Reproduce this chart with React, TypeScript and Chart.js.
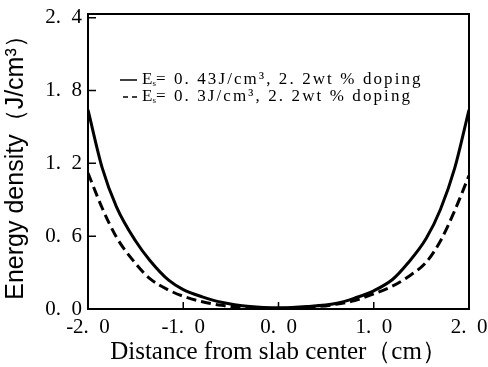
import React, { useEffect, useRef } from "react";
import { Chart, registerables } from "chart.js";
Chart.register(...registerables);

const xValues = [-2, -1.85, -1.7, -1.5, -1.35, -1.15, -1.0, -0.8, -0.6, -0.3, 0, 0.3, 0.6, 0.8, 1.0, 1.2, 1.35, 1.55, 1.7, 1.85, 2.0];
const solidSeries = [1.64, 1.16, 0.84, 0.56, 0.4, 0.235, 0.16, 0.1, 0.055, 0.02, 0.01, 0.02, 0.045, 0.09, 0.15, 0.245, 0.37, 0.58, 0.82, 1.16, 1.64];
const dashedSeries = [1.12, 0.83, 0.59, 0.375, 0.25, 0.155, 0.105, 0.06, 0.03, 0.01, 0.005, 0.012, 0.038, 0.07, 0.125, 0.19, 0.26, 0.385, 0.56, 0.81, 1.1];
const xTickValues = [-2, -1, 0, 1, 2];
const xTickLabels = ["-2.\u20020", "-1.\u20020", "0.\u20020", "1.\u20020", "2.\u20020"];
const yTickValues = [0, 0.6, 1.2, 1.8, 2.4];
const yTickLabels = ["0.\u20020", "0.\u20026", "1.\u20022", "1.\u20028", "2.\u20024"];
const seriesNames = ["Eₛ=0. 43J/cm³, 2. 2wt% doping", "Eₛ=0. 3J/cm³, 2. 2wt% doping"];
const legendPieces = [
  "= 0. 43J/cm³, 2. 2wt % doping",
  "= 0. 3J/cm³, 2. 2wt % doping",
];

const SERIF = "'Liberation Serif', 'Times New Roman', serif";

const framePlugin = {
  id: "frameAndTicks",
  afterDatasetsDraw(chart: any) {
    const { ctx, chartArea, scales } = chart;
    ctx.save();
    ctx.strokeStyle = "#000";
    ctx.lineWidth = 2;
    ctx.strokeRect(chartArea.left, chartArea.top, chartArea.right - chartArea.left, chartArea.bottom - chartArea.top);
    ctx.lineWidth = 1.5;
    ctx.beginPath();
    xTickValues.forEach((v) => {
      const px = scales.x.getPixelForValue(v);
      ctx.moveTo(px, chartArea.bottom);
      ctx.lineTo(px, chartArea.bottom - 7);
    });
    yTickValues.forEach((v) => {
      const py = scales.y.getPixelForValue(v);
      ctx.moveTo(chartArea.left, py);
      ctx.lineTo(chartArea.left + 8, py);
    });
    ctx.stroke();

    // legend
    const rows = [
      { y: 80, dash: [] as number[], x0: 120 },
      { y: 97, dash: [5, 4], x0: 123 },
    ];
    rows.forEach((r, i) => {
      ctx.setLineDash(r.dash);
      ctx.lineWidth = 1.5;
      ctx.beginPath();
      ctx.moveTo(r.x0, r.y);
      ctx.lineTo(137, r.y);
      ctx.stroke();
      ctx.setLineDash([]);
      ctx.fillStyle = "#000";
      ctx.textBaseline = "middle";
      (ctx as any).letterSpacing = "0px";
      ctx.font = `17px ${SERIF}`;
      let x = 142;
      ctx.fillText("E", x, r.y);
      x += ctx.measureText("E").width;
      ctx.font = `9px ${SERIF}`;
      ctx.fillText("s", x, r.y + 4);
      x += ctx.measureText("s").width;
      ctx.font = `17px ${SERIF}`;
      (ctx as any).letterSpacing = "2.1px";
      ctx.fillText(legendPieces[i], x, r.y);
      (ctx as any).letterSpacing = "0px";
    });
    ctx.restore();
  },
};

export default function App() {
  const ref = useRef<HTMLCanvasElement>(null);
  useEffect(() => {
    document.body.style.margin = "0";
    const chart = new Chart(ref.current!, {
      type: "line",
      data: {
        datasets: [
          {
            label: seriesNames[0],
            data: xValues.map((x, i) => ({ x, y: solidSeries[i] })),
            borderColor: "#000",
            borderWidth: 3,
            pointRadius: 0,
            cubicInterpolationMode: "monotone",
            fill: false,
          },
          {
            label: seriesNames[1],
            data: xValues.map((x, i) => ({ x, y: dashedSeries[i] })),
            borderColor: "#000",
            borderWidth: 3,
            borderDash: [10, 5],
            pointRadius: 0,
            cubicInterpolationMode: "monotone",
            fill: false,
          },
        ],
      },
      options: {
        animation: false,
        responsive: false,
        devicePixelRatio: 1,
        layout: { padding: { top: 14, right: 19, left: 0, bottom: 0 } },
        plugins: { legend: { display: false }, tooltip: { enabled: false } },
        scales: {
          x: {
            type: "linear",
            min: -2,
            max: 2,
            afterBuildTicks: (s: any) => {
              s.ticks = xTickValues.map((v) => ({ value: v }));
            },
            afterFit: (s: any) => {
              s.height = 58;
              s.paddingLeft = 0;
              s.paddingRight = 0;
            },
            ticks: {
              callback: (v: any) => xTickLabels[xTickValues.indexOf(Number(v))] ?? "",
              font: { family: SERIF, size: 21 },
              color: "#000",
              padding: 6,
              maxRotation: 0,
              autoSkip: false,
            },
            grid: { display: false, drawTicks: false },
            border: { display: false },
            title: {
              display: true,
              text: "Distance from slab center（cm）",
              font: { family: SERIF, size: 25 },
              color: "#000",
              padding: { top: 0, bottom: 0 },
            },
          },
          y: {
            type: "linear",
            min: 0,
            max: 2.43,
            afterBuildTicks: (s: any) => {
              s.ticks = yTickValues.map((v) => ({ value: v }));
            },
            afterFit: (s: any) => {
              s.width = 88;
              s.paddingTop = 0;
              s.paddingBottom = 0;
            },
            ticks: {
              callback: (v: any) => yTickLabels[yTickValues.indexOf(Number(v))] ?? "",
              font: { family: SERIF, size: 21 },
              color: "#000",
              padding: 6,
              autoSkip: false,
            },
            grid: { display: false, drawTicks: false },
            border: { display: false },
            title: {
              display: true,
              text: "Energy density（J/cm³）",
              font: { family: "'Liberation Sans', Arial, sans-serif", size: 25 },
              color: "#000",
              padding: { top: 1, bottom: 0 },
            },
          },
        },
      },
      plugins: [framePlugin],
    } as any);
    return () => chart.destroy();
  }, []);
  return (
    <div style={{ position: "fixed", left: 0, top: 0, width: 488, height: 367, background: "#fff" }}>
      <canvas ref={ref} width={488} height={367} style={{ width: 488, height: 367, display: "block" }} />
    </div>
  );
}
